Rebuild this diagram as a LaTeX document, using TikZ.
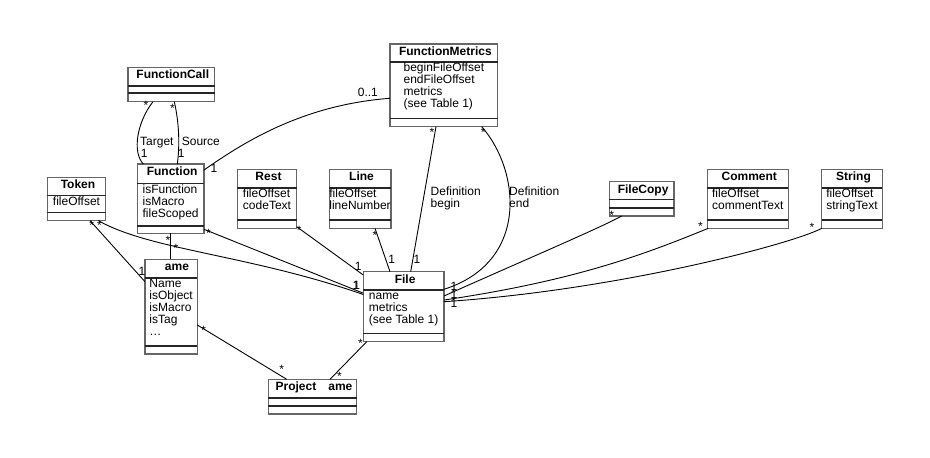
\documentclass[tikz,border=0pt]{standalone}
\usepackage{fontspec}
\setmainfont{Liberation Sans}
\newcommand{\umlclass}[9]{%
  \node[classbox, minimum width=#4pt, minimum height=#5pt, anchor=north west] (#1) at (#2,#3) {};
  \draw[sepline] ([yshift=-#6pt]#1.north west) -- ([yshift=-#6pt]#1.north east);
  \draw[sepline] ([yshift=-#7pt]#1.north west) -- ([yshift=-#7pt]#1.north east);
  \node[titlelabel] (#1t) at ([xshift=1.5pt,yshift=-11.3pt]#1.north) {#8};
  \node[attrlabel] (#1a) at ([yshift=-#6pt-1pt]#1.north) {\rule{0pt}{9pt}#9};
}
\begin{document}
\begin{tikzpicture}[x=1pt,y=-1pt,
  classbox/.style={draw=black!60, line width=1.4pt, fill=white, rectangle, inner sep=0pt, outer sep=0pt},
  sepline/.style={draw=black!85, line width=1.6pt},
  titlelabel/.style={anchor=base, inner sep=0pt, font=\bfseries\fontsize{12}{12}\selectfont},
  attrlabel/.style={anchor=north, inner sep=0pt, align=left, font=\fontsize{12}{12}\selectfont},
  assoc/.style={draw=black, line width=0.9pt},
  txt/.style={inner sep=0pt, anchor=base west, font=\fontsize{12}{12}\selectfont},
  mone/.style={inner sep=0pt, anchor=center, font=\fontsize{12}{12}\selectfont},
  mstar/.style={inner sep=0pt, anchor=center, yshift=-2.6pt, font=\fontsize{12}{12}\selectfont}
]
\fill[white] (0,0) rectangle (930,458);
\useasboundingbox (0,0) rectangle (930,458);

% classes
\umlclass{fc}{128}{67.5}{86.5}{34.2}{18.2}{25.7}{FunctionCall}{}
\umlclass{fn}{137.3}{164}{66.7}{69.3}{19.3}{61.7}{Function}{isFunction\\isMacro\\fileScoped}
\umlclass{tk}{47.3}{177.3}{58.4}{43.3}{18}{35.2}{Token}{fileOffset}
\umlclass{fm}{390}{44}{107.7}{82.7}{17.7}{74.3}{FunctionMetrics}{beginFileOffset\\endFileOffset\\metrics\\(see Table 1)}
\umlclass{rs}{237.3}{169.3}{59.4}{59}{18.4}{50.7}{Rest}{fileOffset\\codeText}
\umlclass{ln}{329.3}{169.3}{61.5}{59}{18.4}{50.7}{Line}{fileOffset\\lineNumber}
\umlclass{fl}{363.3}{271.7}{80.7}{70}{18}{61.7}{File}{name\\metrics\\(see Table 1)}
\umlclass{fcp}{609.3}{181.7}{64.7}{34.3}{17.6}{26}{FileCopy}{}
\umlclass{cm}{707.3}{169.3}{81}{59}{18.4}{50.7}{Comment}{fileOffset\\commentText}
\umlclass{st}{821.7}{169.3}{60.6}{59}{18.4}{50.7}{String}{fileOffset\\stringText}
\umlclass{nm}{145}{259.3}{52.3}{94.7}{18.4}{86.7}{\phantom{N}ame}{Name\\isObject\\isMacro\\isTag\\\ldots}
\umlclass{pj}{268.3}{379.3}{88.4}{34.7}{18.4}{26.7}{Project \phantom{N}ame}{}

% connectors
\draw[assoc] ([xshift=25pt]fc.south west) .. controls (137,122) and (132,152) .. ([xshift=6pt]fn.north west);
\draw[assoc] ([xshift=46.3pt]fc.south west) .. controls (179,122) and (180,145) .. ([xshift=40pt]fn.north west);
\draw[assoc] ([yshift=-6pt]fn.north east) .. controls (240,145) and (300,105) .. ([yshift=-54.3pt]fm.north west);
\draw[assoc] ([xshift=46pt]fm.south west) -- ([xshift=47.4pt]fl.north west);
\draw[assoc] ([xshift=91.7pt]fm.south west) .. controls (520,170) and (530,262) .. ([yshift=-17.6pt]fl.north east);
\draw[assoc] ([xshift=45.7pt]ln.south west) -- ([xshift=26.7pt]fl.north west);
\draw[assoc] ([yshift=1.6pt]rs.south east) -- ([yshift=-3.3pt]fl.north west);
\draw[assoc] ([yshift=4pt]fn.south east) -- ([yshift=-21.5pt]fl.north west);
\draw[assoc] ([xshift=51pt]tk.south west) .. controls (150,250) and (250,255) .. ([yshift=-22.8pt]fl.north west);
\draw[assoc] ([xshift=42.7pt]tk.south west) -- ([yshift=-22.4pt]nm.north west);
\draw[assoc] (fn.south) -- (fn.south |- nm.north);
\draw[assoc] ([yshift=-65.7pt]nm.north east) -- ([xshift=18.4pt]pj.north west);
\draw[assoc] ([xshift=3.4pt]fl.south west) -- ([xshift=61.7pt]pj.north west);
\draw[assoc] ([xshift=12.4pt]fcp.south west) .. controls (600,228) and (520,262) .. ([yshift=-24.3pt]fl.north east);
\draw[assoc] ([xshift=1pt]cm.south west) .. controls (650,252) and (580,280) .. ([yshift=-28.3pt]fl.north east);
\draw[assoc] (st.south west) .. controls (795,243) and (620,290) .. ([yshift=-30pt]fl.north east);

% labels
\node[mstar] (l1) at (146,103) {*};
\node[mstar] (l2) at (172.5,105.5) {*};
\node[txt] (l3) at (140,145.5) {Target};
\node[mone] (l4) at (144.3,153.6) {1};
\node[txt] (l5) at (181.7,145.5) {Source};
\node[mone] (l6) at (181.3,153.6) {1};
\node[mone] (l7) at (214,168) {1};
\node[txt] (l8) at (357.7,96.7) {0..1};
\node[mstar] (l9) at (432,129.5) {*};
\node[mone] (l10) at (417,259.7) {1};
\node[txt] (l11) at (430.5,195) {Definition};
\node[txt] (l12) at (430.5,207) {begin};
\node[mstar] (l13) at (483.3,130) {*};
\node[txt] (l14) at (509,195) {Definition};
\node[txt] (l15) at (509,207) {end};
\node[mone] (l16) at (454,285.9) {1};
\node[mone] (l17) at (454,294.6) {1};
\node[mone] (l18) at (454,303.3) {1};
\node[mstar] (l19) at (375,232.5) {*};
\node[mone] (l20) at (391.7,259.7) {1};
\node[mstar] (l21) at (299.3,228) {*};
\node[mone] (l22) at (358.3,266.3) {1};
\node[mone] (l23) at (356,285.3) {1};
\node[mone] (l24) at (356.7,285.3) {1};
\node[mstar] (l25) at (208.5,230.7) {*};
\node[mstar] (l26) at (99.5,222.5) {*};
\node[mstar] (l27) at (91.7,223) {*};
\node[mone] (l28) at (142,271.7) {1};
\node[mstar] (l29) at (168,237.8) {*};
\node[mstar] (l30) at (176,245.8) {*};
\node[mstar] (l31) at (203.7,327.5) {*};
\node[mstar] (l32) at (281.7,366.7) {*};
\node[mstar] (l33) at (360.5,340.8) {*};
\node[mstar] (l34) at (339.5,373.3) {*};
\node[mstar] (l35) at (611.7,213) {*};
\node[mstar] (l36) at (700.5,224.2) {*};
\node[mstar] (l37) at (812,225.2) {*};
\end{tikzpicture}
\end{document}
